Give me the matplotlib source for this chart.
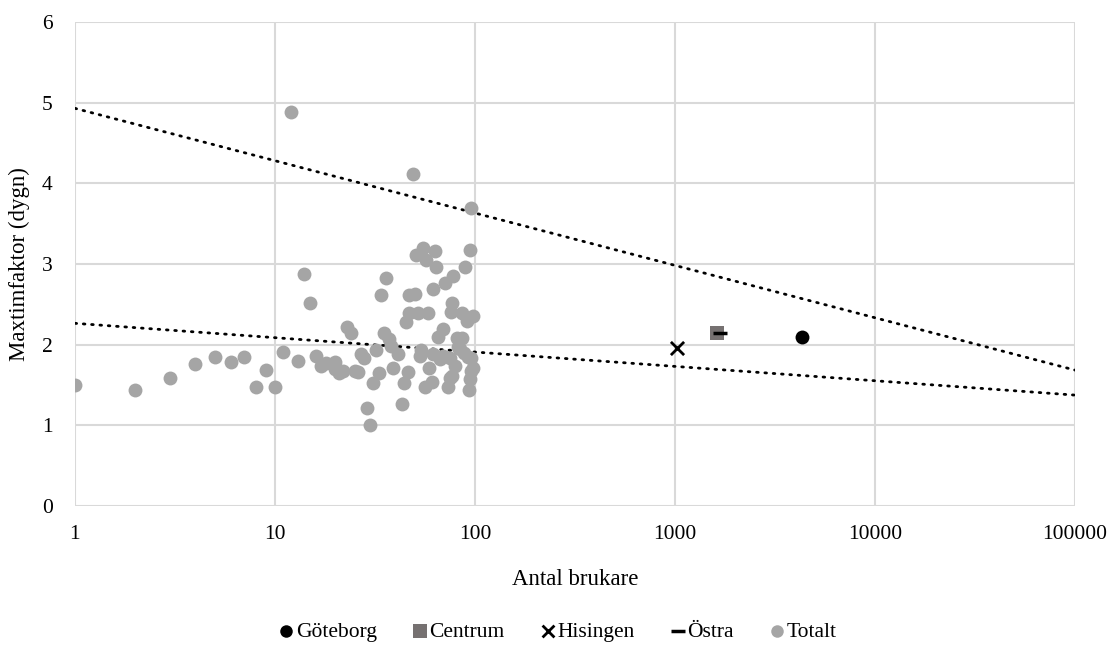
import numpy as np
import matplotlib.pyplot as plt
from matplotlib.ticker import FixedLocator, NullLocator

plt.rcParams['font.family'] = ['Liberation Serif', 'DejaVu Serif']

# antal brukare / maxtimfaktor per område
totalt_x = [1, 2, 3, 4, 5, 6, 7, 8, 9, 10, 11, 12, 13, 14, 15, 16, 17, 18, 20, 20, 21,
            22, 23, 24, 25, 26, 27, 28, 29, 30, 31, 32, 33, 34, 35, 36, 37, 38, 39, 41, 43,
            44, 45, 46, 47, 47, 49, 50, 51, 52, 53, 54, 55, 56, 57, 58, 59, 61, 62, 62, 63,
            64, 65, 67, 69, 69, 71, 73, 75, 75, 76, 77, 77, 78, 79, 81, 82, 86, 86, 89, 91,
            93, 94, 94, 95, 96, 96, 98, 98, 84, 88, 92]
totalt_y = [1.50, 1.44, 1.59, 1.76, 1.85, 1.78, 1.85, 1.48, 1.69, 1.48, 1.91, 4.88, 1.80, 2.88, 2.52, 1.86, 1.73, 1.77, 1.79, 1.70, 1.65,
            1.67, 2.22, 2.15, 1.68, 1.66, 1.89, 1.83, 1.21, 1.00, 1.53, 1.93, 1.65, 2.62, 2.14, 2.83, 2.07, 1.98, 1.71, 1.88, 1.27,
            1.53, 2.28, 1.66, 2.61, 2.39, 4.12, 2.63, 3.11, 2.39, 1.86, 1.94, 3.20, 1.47, 3.05, 2.39, 1.71, 1.54, 2.69, 1.88, 3.16,
            2.96, 2.10, 1.82, 2.19, 1.86, 2.76, 1.48, 1.84, 1.59, 2.40, 2.52, 1.61, 2.85, 1.73, 2.08, 1.97, 2.08, 2.39, 2.96, 2.29,
            1.44, 1.57, 3.18, 3.70, 1.67, 1.83, 2.35, 1.71, 1.95, 1.90, 1.85]

goteborg = (4300, 2.10)
centrum = (1620, 2.15)
hisingen = (1020, 1.96)
ostra = (1680, 2.15)

# logaritmiska trendlinjer: y = a + b*log10(x)
trend_upper = (4.93, -0.649)
trend_lower = (2.265, -0.178)

x_ticks = [1, 10, 100, 1000, 10000, 100000]
x_ticklabels = ['1', '10', '100', '1000', '10000', '100000']
y_ticks = [0, 1, 2, 3, 4, 5, 6]

fig = plt.figure(figsize=(11.14, 6.52), dpi=100)
ax = fig.add_axes([0.0673, 0.2239, 0.8977, 0.7423])

xx = np.logspace(0, 5, 200)
for a, b in (trend_upper, trend_lower):
    ax.plot(xx, a + b * np.log10(xx), color='black', lw=2.0,
            linestyle=(0, (0.6, 2.4)), dash_capstyle='round', zorder=2)

ax.scatter(totalt_x, totalt_y, s=100, color='#a5a5a5', linewidths=0, zorder=3, label='Totalt')
ax.scatter(*goteborg, s=100, color='black', linewidths=0, zorder=4, label='Göteborg')
ax.scatter(*centrum, s=115, marker='s', color='#767171', linewidths=0, zorder=4, label='Centrum')
ax.scatter(*hisingen, s=90, marker='x', color='black', linewidths=2, zorder=4, label='Hisingen')
ax.scatter(*ostra, s=110, marker='_', color='black', linewidths=2.5, zorder=5, label='Östra')

ax.set_xscale('log')
ax.set_xlim(1, 100000)
ax.set_ylim(0, 6)
ax.xaxis.set_major_locator(FixedLocator(x_ticks))
ax.xaxis.set_minor_locator(NullLocator())
ax.set_xticklabels(x_ticklabels)
ax.set_yticks(y_ticks)

for s in ax.spines.values():
    s.set_visible(False)
ax.grid(True, color='#d9d9d9', lw=1.5, zorder=0)
ax.set_axisbelow(True)
ax.tick_params(length=0, labelsize=15.5, pad=14)
ax.tick_params(axis='y', pad=16)

ax.set_xlabel('Antal brukare', fontsize=16.5)
ax.set_ylabel('Maxtimfaktor (dygn)', fontsize=16.5)
ax.xaxis.set_label_coords(0.5, -0.130)
ax.yaxis.set_label_coords(-0.045, 0.5)

handles, labels = ax.get_legend_handles_labels()
order = ['Göteborg', 'Centrum', 'Hisingen', 'Östra', 'Totalt']
hmap = dict(zip(labels, handles))
fig.legend([hmap[k] for k in order], order, loc='center', bbox_to_anchor=(0.5, 0.031),
           ncol=5, frameon=False, fontsize=15.5, handlelength=0.8, handletextpad=0.05,
           columnspacing=1.6, markerscale=0.9)

fig.savefig('out.png', dpi=100)
